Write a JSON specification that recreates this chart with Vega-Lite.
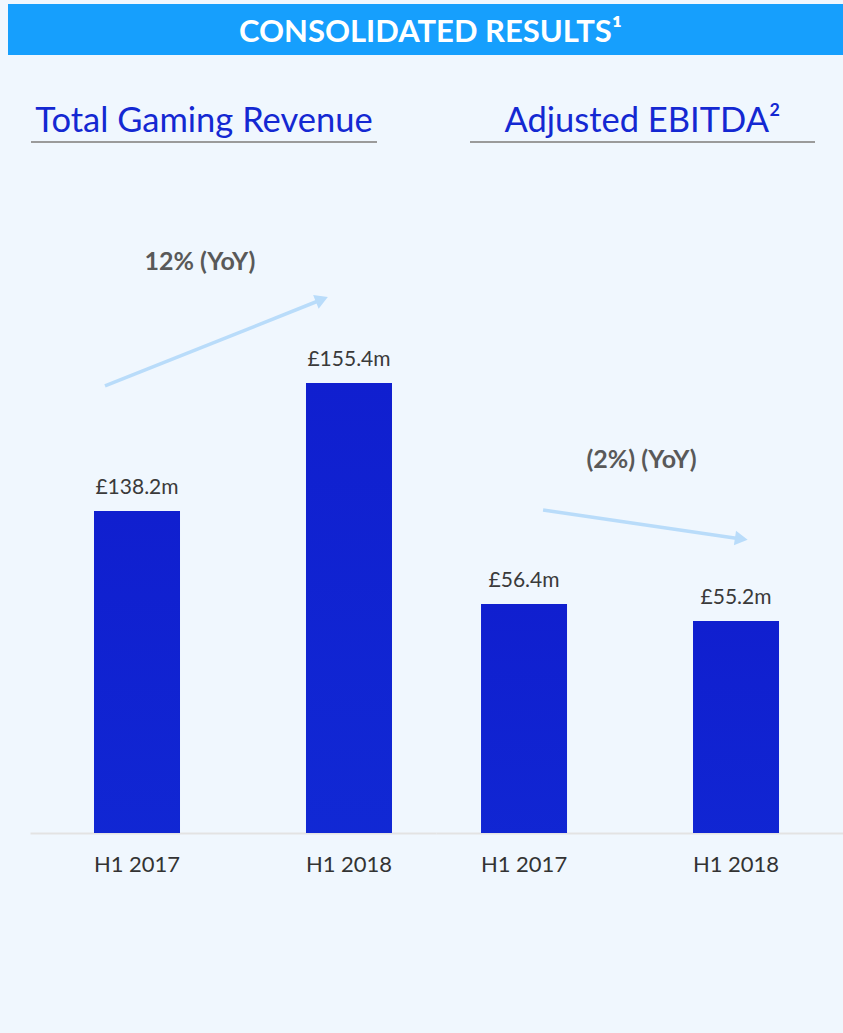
{
  "$schema": "https://vega.github.io/schema/vega-lite/v6.json",
  "background": "#f0f7fe",
  "padding": {"left": 8, "top": 4, "right": 0, "bottom": 0},
  "config": {"view": {"stroke": null}, "font": "Lato"},
  "datasets": {
    "revenue": [
      {"period": "H1 2017", "value": 138.2, "label": "£138.2m"},
      {"period": "H1 2018", "value": 155.4, "label": "£155.4m"}
    ],
    "ebitda": [
      {"period": "H1 2017", "value": 56.4, "label": "£56.4m"},
      {"period": "H1 2018", "value": 55.2, "label": "£55.2m"}
    ],
    "revArrow": [{"u": 0.349, "v": 155.0}, {"u": 1.372, "v": 166.62}],
    "revHead": [{"u": 1.372, "v": 166.62}],
    "revNote": [{"u": 0.797, "v": 170.58, "text": "12% (YoY)"}],
    "ebArrow": [{"u": 0.59, "v": 63.03}, {"u": 1.525, "v": 60.99}],
    "ebHead": [{"u": 1.525, "v": 60.99}],
    "ebNote": [{"u": 1.054, "v": 66.0, "text": "(2%) (YoY)"}],
    "header": [{"t": "CONSOLIDATED RESULTS¹"}],
    "title1": [{"t": "Total Gaming Revenue"}],
    "title2": [{"t": "Adjusted EBITDA²"}]
  },
  "spacing": 0,
  "vconcat": [
    {
      "width": 835,
      "height": 51,
      "view": {"fill": "#169ffd", "stroke": null},
      "data": {"name": "header"},
      "mark": {"type": "text", "color": "white", "fontWeight": "bold", "fontSize": 31, "font": "Lato", "baseline": "alphabetic", "dy": 12.5, "dx": 5},
      "encoding": {"text": {"field": "t"}}
    },
    {
      "spacing": 0,
      "bounds": "flush",
      "hconcat": [
        {"data": {"values": []}, "mark": "point", "width": 23, "height": 87},
        {
          "width": 346,
          "height": 87,
          "data": {"name": "title1"},
          "layer": [
            {
              "mark": {"type": "rule", "color": "#9b9b9b", "strokeWidth": 2},
              "encoding": {"y": {"datum": 0, "type": "quantitative", "scale": {"domain": [0, 1], "nice": false}, "axis": null}}
            },
            {
              "mark": {"type": "text", "fontSize": 34.5, "color": "#1428d2", "font": "Lato", "baseline": "alphabetic", "dy": -10},
              "encoding": {
                "text": {"field": "t"},
                "y": {"datum": 0, "type": "quantitative", "scale": {"domain": [0, 1], "nice": false}, "axis": null}
              }
            }
          ]
        },
        {"data": {"values": []}, "mark": "point", "width": 93, "height": 87},
        {
          "width": 345,
          "height": 87,
          "data": {"name": "title2"},
          "layer": [
            {
              "mark": {"type": "rule", "color": "#9b9b9b", "strokeWidth": 2},
              "encoding": {"y": {"datum": 0, "type": "quantitative", "scale": {"domain": [0, 1], "nice": false}, "axis": null}}
            },
            {
              "mark": {"type": "text", "fontSize": 34.5, "color": "#1428d2", "font": "Lato", "baseline": "alphabetic", "dy": -10},
              "encoding": {
                "text": {"field": "t"},
                "y": {"datum": 0, "type": "quantitative", "scale": {"domain": [0, 1], "nice": false}, "axis": null}
              }
            }
          ]
        }
      ]
    },
    {
      "spacing": 0,
      "bounds": "flush",
      "hconcat": [
        {"data": {"values": []}, "mark": "point", "width": 22, "height": 690},
        {
          "width": 406,
          "height": 690,
          "resolve": {"scale": {"x": "independent"}},
          "layer": [
            {
              "data": {"name": "revenue"},
              "encoding": {
                "x": {
                  "field": "period", "type": "nominal", "sort": null,
                  "scale": {"paddingInner": 0.5943, "paddingOuter": 0.2547, "align": 0.5926},
                  "axis": {"title": null, "labelAngle": 0, "labelFontSize": 22, "labelColor": "#333333", "labelFont": "Lato", "ticks": false, "tickSize": 0, "labelPadding": 21, "domainColor": "#e3e3e3", "domainWidth": 2}
                },
                "y": {"field": "value", "type": "quantitative", "scale": {"domain": [94.93, 187.65], "zero": false, "nice": false}, "axis": null}
              },
              "layer": [
                {"mark": {"type": "bar", "clip": true, "color": {"gradient": "linear", "x1": 0, "y1": 0, "x2": 0, "y2": 1, "stops": [{"offset": 0, "color": "#101fcf"}, {"offset": 1, "color": "#1237dc"}]}}},
                {"mark": {"type": "text", "baseline": "alphabetic", "dy": -17, "fontSize": 21, "color": "#3a3a3a", "font": "Lato"}, "encoding": {"text": {"field": "label"}}}
              ]
            },
            {
              "data": {"name": "revArrow"},
              "mark": {"type": "line", "color": "#b9dcfa", "strokeWidth": 3.5},
              "encoding": {
                "x": {"field": "u", "type": "quantitative", "scale": {"domain": [-0.0047, 1.9104], "zero": false, "nice": false}, "axis": null},
                "y": {"field": "v", "type": "quantitative", "scale": {"domain": [94.93, 187.65], "zero": false, "nice": false}, "axis": null}
              }
            },
            {
              "data": {"name": "revHead"},
              "mark": {"type": "point", "shape": "triangle-right", "filled": true, "size": 220, "color": "#b9dcfa", "opacity": 1, "angle": -21.8},
              "encoding": {
                "x": {"field": "u", "type": "quantitative", "scale": {"domain": [-0.0047, 1.9104], "zero": false, "nice": false}, "axis": null},
                "y": {"field": "v", "type": "quantitative", "scale": {"domain": [94.93, 187.65], "zero": false, "nice": false}, "axis": null}
              }
            },
            {
              "data": {"name": "revNote"},
              "mark": {"type": "text", "fontSize": 25, "fontWeight": "bold", "color": "#595959", "font": "Lato", "baseline": "alphabetic"},
              "encoding": {
                "x": {"field": "u", "type": "quantitative", "scale": {"domain": [-0.0047, 1.9104], "zero": false, "nice": false}, "axis": null},
                "y": {"field": "v", "type": "quantitative", "scale": {"domain": [94.93, 187.65], "zero": false, "nice": false}, "axis": null},
                "text": {"field": "text"}
              }
            }
          ]
        },
        {
          "width": 407,
          "height": 690,
          "resolve": {"scale": {"x": "independent"}},
          "layer": [
            {
              "data": {"name": "ebitda"},
              "encoding": {
                "x": {
                  "field": "period", "type": "nominal", "sort": null,
                  "scale": {"paddingInner": 0.5943, "paddingOuter": 0.2571, "align": 0.413},
                  "axis": {"title": null, "labelAngle": 0, "labelFontSize": 22, "labelColor": "#333333", "labelFont": "Lato", "ticks": false, "tickSize": 0, "labelPadding": 21, "domainColor": "#e3e3e3", "domainWidth": 2}
                },
                "y": {"field": "value", "type": "quantitative", "scale": {"domain": [40.24, 88.93], "zero": false, "nice": false}, "axis": null}
              },
              "layer": [
                {"mark": {"type": "bar", "clip": true, "color": {"gradient": "linear", "x1": 0, "y1": 0, "x2": 0, "y2": 1, "stops": [{"offset": 0, "color": "#101fcf"}, {"offset": 1, "color": "#1237dc"}]}}},
                {"mark": {"type": "text", "baseline": "alphabetic", "dy": -17, "fontSize": 21, "color": "#3a3a3a", "font": "Lato"}, "encoding": {"text": {"field": "label"}}}
              ]
            },
            {
              "data": {"name": "ebArrow"},
              "mark": {"type": "line", "color": "#b9dcfa", "strokeWidth": 3.5},
              "encoding": {
                "x": {"field": "u", "type": "quantitative", "scale": {"domain": [0.0849, 2.0047], "zero": false, "nice": false}, "axis": null},
                "y": {"field": "v", "type": "quantitative", "scale": {"domain": [40.24, 88.93], "zero": false, "nice": false}, "axis": null}
              }
            },
            {
              "data": {"name": "ebHead"},
              "mark": {"type": "point", "shape": "triangle-right", "filled": true, "size": 220, "color": "#b9dcfa", "opacity": 1, "angle": 8.3},
              "encoding": {
                "x": {"field": "u", "type": "quantitative", "scale": {"domain": [0.0849, 2.0047], "zero": false, "nice": false}, "axis": null},
                "y": {"field": "v", "type": "quantitative", "scale": {"domain": [40.24, 88.93], "zero": false, "nice": false}, "axis": null}
              }
            },
            {
              "data": {"name": "ebNote"},
              "mark": {"type": "text", "fontSize": 25, "fontWeight": "bold", "color": "#595959", "font": "Lato", "baseline": "alphabetic"},
              "encoding": {
                "x": {"field": "u", "type": "quantitative", "scale": {"domain": [0.0849, 2.0047], "zero": false, "nice": false}, "axis": null},
                "y": {"field": "v", "type": "quantitative", "scale": {"domain": [40.24, 88.93], "zero": false, "nice": false}, "axis": null},
                "text": {"field": "text"}
              }
            }
          ]
        }
      ]
    },
    {"data": {"values": []}, "mark": "point", "width": 835, "height": 160, "view": {"fill": "transparent", "stroke": null}}
  ]
}
